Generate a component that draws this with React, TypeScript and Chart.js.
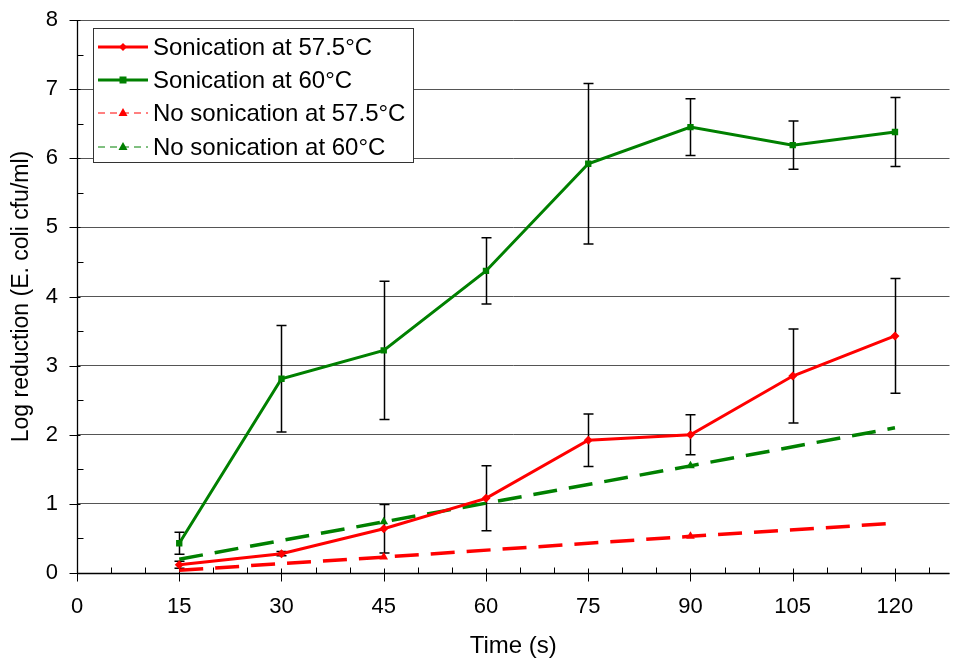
import React, { useEffect, useRef } from "react";
import { Chart, registerables } from "chart.js";

Chart.register(...registerables);

const timePoints = [15, 30, 45, 60, 75, 90, 105, 120];
const sonic575 = [0.12, 0.28, 0.64, 1.08, 1.92, 2.0, 2.85, 3.43];
const sonic575Err = [0.05, 0.03, 0.35, 0.47, 0.38, 0.29, 0.68, 0.83];
const sonic60 = [0.43, 2.81, 3.22, 4.37, 5.92, 6.45, 6.19, 6.38];
const sonic60Err = [0.16, 0.77, 1.0, 0.48, 1.16, 0.41, 0.35, 0.5];
const noSonicTimes = [15, 45, 90, 120];
const noSonic575 = [0.04, 0.23, 0.53, 0.72];
const noSonic60 = [0.2, 0.74, 1.55, 2.1];
const noSonicMarkerShown = [false, true, true, false];
const xTickValues = [0, 15, 30, 45, 60, 75, 90, 105, 120];
const xMinorStep = 5;
const yMinorStep = 0.5;
const seriesLabels = [
  "Sonication at 57.5°C",
  "Sonication at 60°C",
  "No sonication at 57.5°C",
  "No sonication at 60°C",
];

const FONT = '"Liberation Sans", Arial, Helvetica, sans-serif';
const RED = "#ff0000";
const GREEN = "#008000";

export default function App() {
  const ref = useRef<HTMLCanvasElement | null>(null);

  useEffect(() => {
    const canvas = ref.current;
    if (!canvas) return;

    const errs: Record<number, number[]> = { 0: sonic575Err, 1: sonic60Err };

    const axesPlugin = {
      id: "axesAndErrors",
      beforeDatasetsDraw(chart: any) {
        const { ctx, chartArea } = chart;
        const xs = chart.scales.x;
        const ys = chart.scales.y;
        const L = Math.round(chartArea.left) + 0.5;
        const B = Math.round(chartArea.bottom) + 0.5;
        ctx.save();
        ctx.strokeStyle = "#000";
        ctx.lineWidth = 1.3;
        ctx.beginPath();
        ctx.moveTo(L, chartArea.top);
        ctx.lineTo(L, B);
        ctx.moveTo(L, B);
        ctx.lineTo(chartArea.right, B);
        ctx.stroke();
        ctx.lineWidth = 1;
        ctx.beginPath();
        for (let v = 0; v <= xs.max + 1e-6; v += xMinorStep) {
          const px = Math.round(xs.getPixelForValue(v)) + 0.5;
          const major = xTickValues.includes(v);
          if (major) {
            ctx.moveTo(px, B - 5);
            ctx.lineTo(px, B + 8);
          } else {
            ctx.moveTo(px, B - 6);
            ctx.lineTo(px, B);
          }
        }
        for (let v = 0; v <= 8 + 1e-6; v += yMinorStep) {
          const py = Math.round(ys.getPixelForValue(v)) + 0.5;
          const major = Math.abs(v - Math.round(v)) < 1e-6;
          if (major) {
            ctx.moveTo(L - 8, py);
            ctx.lineTo(L + 3, py);
          } else {
            ctx.moveTo(L, py);
            ctx.lineTo(L + 6, py);
          }
        }
        ctx.stroke();

        ctx.lineWidth = 1.5;
        ctx.strokeStyle = "#000";
        Object.keys(errs).forEach((k) => {
          const di = Number(k);
          const ds = chart.data.datasets[di];
          const e = errs[di];
          ctx.beginPath();
          ds.data.forEach((p: any, i: number) => {
            const px = Math.round(xs.getPixelForValue(p.x)) + 0.5;
            const top = ys.getPixelForValue(p.y + e[i]);
            const bot = ys.getPixelForValue(p.y - e[i]);
            ctx.moveTo(px, top);
            ctx.lineTo(px, bot);
            ctx.moveTo(px - 5, top);
            ctx.lineTo(px + 5, top);
            ctx.moveTo(px - 5, bot);
            ctx.lineTo(px + 5, bot);
          });
          ctx.stroke();
        });
        ctx.restore();
      },
      afterDraw(chart: any) {
        const { ctx } = chart;
        ctx.save();
        const bx = 93.5, by = 28.5, bw = 320, bh = 134;
        ctx.fillStyle = "#fff";
        ctx.fillRect(bx, by, bw, bh);
        ctx.strokeStyle = "#333";
        ctx.lineWidth = 1;
        ctx.strokeRect(bx, by, bw, bh);
        const rowY = [47, 80, 113, 147];
        chart.data.datasets.forEach((ds: any, i: number) => {
          const y = rowY[i];
          const dashed = i >= 2;
          ctx.strokeStyle = ds.borderColor;
          ctx.lineWidth = dashed ? 1 : 3;
          ctx.setLineDash(dashed ? [7, 5] : []);
          ctx.beginPath();
          ctx.moveTo(98, y);
          ctx.lineTo(148, y);
          ctx.stroke();
          ctx.setLineDash([]);
          ctx.fillStyle = ds.borderColor;
          ctx.beginPath();
          if (i === 0) {
            ctx.moveTo(123, y - 4);
            ctx.lineTo(127, y);
            ctx.lineTo(123, y + 4);
            ctx.lineTo(119, y);
            ctx.closePath();
          } else if (i === 1) {
            ctx.rect(119.5, y - 3.5, 7, 7);
          } else {
            ctx.moveTo(123, y - 5);
            ctx.lineTo(127.5, y + 3);
            ctx.lineTo(118.5, y + 3);
            ctx.closePath();
          }
          ctx.fill();
          ctx.fillStyle = "#000";
          ctx.font = `24px ${FONT}`;
          ctx.textBaseline = "middle";
          ctx.textAlign = "left";
          ctx.fillText(ds.label, 153, y + 1);
        });
        ctx.restore();
      },
    };

    const chart = new Chart(canvas, {
      type: "line",
      data: {
        datasets: [
          {
            label: seriesLabels[0],
            data: timePoints.map((t, i) => ({ x: t, y: sonic575[i] })),
            borderColor: RED,
            backgroundColor: RED,
            borderWidth: 3,
            pointStyle: "rectRot",
            pointRadius: 4.5,
            pointBorderWidth: 0,
            tension: 0,
          },
          {
            label: seriesLabels[1],
            data: timePoints.map((t, i) => ({ x: t, y: sonic60[i] })),
            borderColor: GREEN,
            backgroundColor: GREEN,
            borderWidth: 3,
            pointStyle: "rect",
            pointRadius: 4.5,
            pointBorderWidth: 0,
            tension: 0,
          },
          {
            label: seriesLabels[2],
            data: noSonicTimes.map((t, i) => ({ x: t, y: noSonic575[i] })),
            borderColor: RED,
            backgroundColor: RED,
            borderWidth: 3.5,
            borderDash: [24, 12],
            pointStyle: "triangle",
            pointRadius: noSonicMarkerShown.map((s) => (s ? 5 : 0)),
            pointBorderWidth: 0,
            tension: 0,
          },
          {
            label: seriesLabels[3],
            data: noSonicTimes.map((t, i) => ({ x: t, y: noSonic60[i] })),
            borderColor: GREEN,
            backgroundColor: GREEN,
            borderWidth: 3.5,
            borderDash: [24, 12],
            pointStyle: "triangle",
            pointRadius: noSonicMarkerShown.map((s) => (s ? 5 : 0)),
            pointBorderWidth: 0,
            tension: 0,
          },
        ],
      },
      options: {
        animation: false,
        responsive: false,
        layout: { padding: { top: 20, right: 0, left: 0, bottom: 0 } },
        plugins: {
          legend: { display: false },
          tooltip: { enabled: false },
        },
        scales: {
          x: {
            type: "linear",
            min: 0,
            max: 128,
            afterBuildTicks: (scale: any) => {
              scale.ticks = xTickValues.map((v) => ({ value: v }));
            },
            afterFit: (scale: any) => {
              scale.height = 88;
              scale.paddingLeft = 0;
              scale.paddingRight = 0;
            },
            grid: { display: false, drawTicks: false },
            border: { display: false },
            ticks: {
              color: "#000",
              font: { family: FONT, size: 22 },
              padding: 21,
              maxRotation: 0,
              autoSkip: false,
            },
            title: {
              display: true,
              text: "Time (s)",
              color: "#000",
              font: { family: FONT, size: 24 },
              padding: { top: 0, bottom: 0 },
            },
          },
          y: {
            type: "linear",
            min: 0,
            max: 8,
            afterFit: (scale: any) => {
              scale.width = 77;
              scale.paddingTop = 0;
              scale.paddingBottom = 0;
            },
            grid: { color: "#555", lineWidth: 1, drawTicks: false },
            border: { display: false },
            ticks: {
              stepSize: 1,
              color: "#000",
              font: { family: FONT, size: 22 },
              padding: 19,
            },
            title: {
              display: true,
              text: "Log reduction (E. coli cfu/ml)",
              color: "#000",
              font: { family: FONT, size: 23 },
              padding: { top: 8, bottom: 0 },
            },
          },
        },
      },
      plugins: [axesPlugin],
    } as any);

    return () => chart.destroy();
  }, []);

  return (
    <div style={{ position: "fixed", left: 0, top: 0, width: 954, height: 661, background: "#fff" }}>
      <canvas ref={ref} width={954} height={661} style={{ display: "block" }} />
    </div>
  );
}
